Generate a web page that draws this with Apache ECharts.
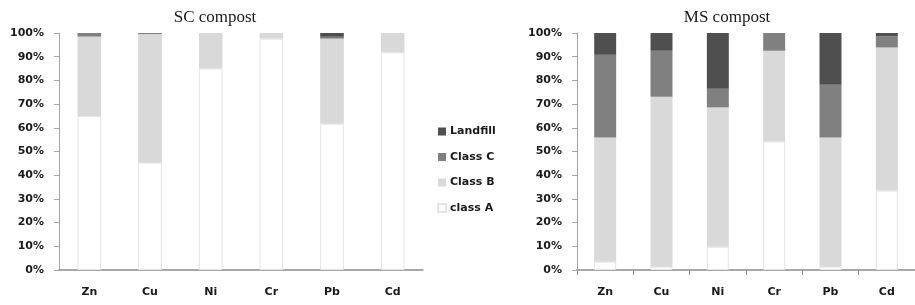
<!DOCTYPE html>
<html><head><meta charset="utf-8">
<script src="https://cdn.jsdelivr.net/npm/echarts@6/dist/echarts.min.js"></script>
<style>html,body{margin:0;padding:0;background:#fff}#c{width:915px;height:305px}</style>
</head><body><div id="c"></div>
<script>
var categories = ['Zn', 'Cu', 'Ni', 'Cr', 'Pb', 'Cd'];
var yTicks = [0, 10, 20, 30, 40, 50, 60, 70, 80, 90, 100];
// SC compost (%)
var scClassA   = [65.0, 45.3, 85.0, 97.6, 61.7, 91.8];
var scClassB   = [33.5, 54.2, 15.0, 2.4, 35.9, 8.2];
var scClassC   = [1.5, 0.5, 0, 0, 0.8, 0];
var scLandfill = [0, 0, 0, 0, 1.6, 0];
// MS compost (%)
var msClassA   = [3.5, 1.4, 9.8, 54.2, 1.4, 33.5];
var msClassB   = [52.4, 71.7, 58.8, 38.3, 54.5, 60.4];
var msClassC   = [34.9, 19.4, 7.9, 7.5, 22.3, 4.7];
var msLandfill = [9.2, 7.5, 23.5, 0, 21.8, 1.4];

var colors = {'class A': '#ffffff', 'Class B': '#d9d9d9', 'Class C': '#808080', 'Landfill': '#4f4f4f'};
var bw = {'class A': 1, 'Class B': 0, 'Class C': 0, 'Landfill': 0};
var lbl = {fontFamily: 'DejaVu Sans', fontSize: 11, fontWeight: 'bold', color: '#1a1a1a'};

function mkSeries(name, data, idx) {
  return {
    name: name, type: 'bar', stack: 's' + idx,
    data: data.map(function (v) { return v === 0 ? '-' : v; }),
    xAxisIndex: idx, yAxisIndex: idx, barWidth: '39%',
    itemStyle: {color: colors[name], borderColor: '#e4e4e4', borderWidth: bw[name]},
    emphasis: {disabled: true}, animation: false
  };
}
function mkX(idx, ticks) {
  return {
    type: 'category', gridIndex: idx, data: categories,
    axisLine: {show: true, lineStyle: {color: '#8c8c8c', width: 1.5}},
    axisTick: {show: ticks, length: 5, lineStyle: {color: '#8c8c8c'}},
    axisLabel: Object.assign({margin: 17}, lbl)
  };
}
function mkY(idx) {
  return {
    type: 'value', gridIndex: idx, min: yTicks[0], max: yTicks[yTicks.length - 1], interval: 10,
    axisLine: {show: true, lineStyle: {color: '#a6a6a6'}},
    axisTick: {show: true, length: 5, lineStyle: {color: '#a6a6a6'}},
    splitLine: {show: false},
    axisLabel: Object.assign({margin: 15, formatter: '{value}%'}, lbl)
  };
}

var chart = echarts.init(document.getElementById('c'), null, {renderer: 'canvas'});
chart.setOption({
  animation: false,
  title: [
    {text: 'SC compost', left: 210, top: 4, textAlign: 'center',
     textStyle: {fontFamily: 'Liberation Serif', fontSize: 17, fontWeight: 'normal', color: '#1a1a1a'}},
    {text: 'MS compost', left: 722, top: 4, textAlign: 'center',
     textStyle: {fontFamily: 'Liberation Serif', fontSize: 17, fontWeight: 'normal', color: '#1a1a1a'}}
  ],
  legend: {
    orient: 'vertical', left: 437, top: 126, padding: 0, icon: 'rect',
    itemWidth: 8, itemHeight: 8, itemGap: 14.5,
    data: ['Landfill', 'Class C', 'Class B', 'class A'],
    textStyle: Object.assign({padding: [0, 0, 0, -1]}, lbl), selectedMode: false
  },
  grid: [
    {left: 59, top: 33, width: 364, height: 237},
    {left: 577, top: 33, width: 348, height: 237}
  ],
  xAxis: [mkX(0, false), mkX(1, true)],
  yAxis: [mkY(0), mkY(1)],
  series: [
    mkSeries('class A', scClassA, 0), mkSeries('Class B', scClassB, 0),
    mkSeries('Class C', scClassC, 0), mkSeries('Landfill', scLandfill, 0),
    mkSeries('class A', msClassA, 1), mkSeries('Class B', msClassB, 1),
    mkSeries('Class C', msClassC, 1), mkSeries('Landfill', msLandfill, 1)
  ]
});
</script></body></html>
